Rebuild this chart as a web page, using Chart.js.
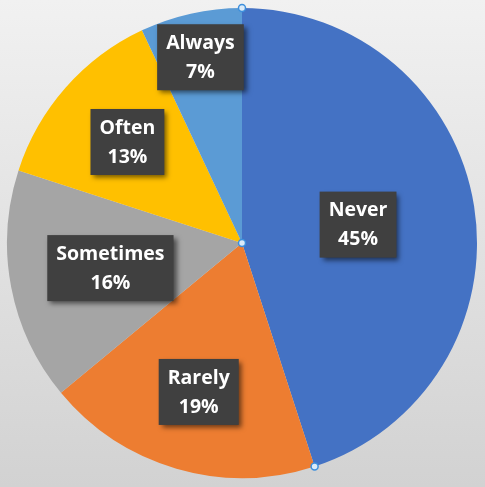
<!DOCTYPE html>
<html>
<head>
<meta charset="utf-8">
<script src="https://cdn.jsdelivr.net/npm/chart.js@4.4.0/dist/chart.umd.min.js"></script>
<style>
  html, body { margin: 0; padding: 0; }
  body { width: 485px; height: 487px; background: linear-gradient(#f1f1f1, #d2d2d2); }
</style>
</head>
<body>
<canvas id="myChart" width="485" height="487"></canvas>
<script>
var labels = ["Never", "Rarely", "Sometimes", "Often", "Always"];
var values = [45, 19, 16, 13, 7];
var colors = ["#4472C4", "#ED7D31", "#A5A5A5", "#FFC000", "#5B9BD5"];
// how far out along each slice the label box sits (fraction of radius)
var labelRadius = [0.5, 0.66, 0.57, 0.65, 0.81];

var labelBoxes = {
  id: "labelBoxes",
  afterDatasetsDraw: function (chart) {
    var ctx = chart.ctx;
    var arcs = chart.getDatasetMeta(0).data;
    ctx.save();
    ctx.font = "bold 19.5px 'Open Sans'";
    arcs.forEach(function (arc, i) {
      var mid = (arc.startAngle + arc.endAngle) / 2;
      var r = arc.outerRadius * labelRadius[i];
      var cx = arc.x + Math.cos(mid) * r;
      var cy = arc.y + Math.sin(mid) * r;
      var line1 = labels[i];
      var line2 = values[i] + "%";
      var w = Math.max(ctx.measureText(line1).width, ctx.measureText(line2).width) + 18;
      var h = 66;
      ctx.save();
      ctx.shadowColor = "rgba(0,0,0,0.55)";
      ctx.shadowBlur = 5;
      ctx.shadowOffsetX = 3;
      ctx.shadowOffsetY = 3;
      ctx.fillStyle = "#404040";
      ctx.fillRect(cx - w / 2, cy - h / 2, w, h);
      ctx.restore();
      ctx.fillStyle = "#ffffff";
      ctx.textAlign = "center";
      ctx.textBaseline = "middle";
      ctx.fillText(line1, cx, cy - 14);
      ctx.fillText(line2, cx, cy + 15);
    });

    // selection handles on the first slice
    var a = arcs[0];
    var pts = [
      [a.x, a.y],
      [a.x + Math.cos(a.startAngle) * a.outerRadius, a.y + Math.sin(a.startAngle) * a.outerRadius],
      [a.x + Math.cos(a.endAngle) * a.outerRadius, a.y + Math.sin(a.endAngle) * a.outerRadius]
    ];
    pts.forEach(function (p) {
      ctx.beginPath();
      ctx.arc(p[0], p[1], 3.5, 0, Math.PI * 2);
      ctx.fillStyle = "#dcebf8";
      ctx.fill();
      ctx.lineWidth = 1.5;
      ctx.strokeStyle = "#3d8fdc";
      ctx.stroke();
    });
    ctx.restore();
  }
};

var ctx = document.getElementById("myChart").getContext("2d");
var chart = new Chart(ctx, {
  type: "pie",
  data: {
    labels: labels,
    datasets: [
      {
        data: values,
        backgroundColor: colors,
        borderWidth: 0
      }
    ]
  },
  options: {
    responsive: false,
    animation: false,
    layout: { padding: { left: 7, right: 8, top: 8, bottom: 9 } },
    plugins: {
      legend: { display: false },
      tooltip: { enabled: false }
    }
  },
  plugins: [labelBoxes]
});
</script>
</body>
</html>
